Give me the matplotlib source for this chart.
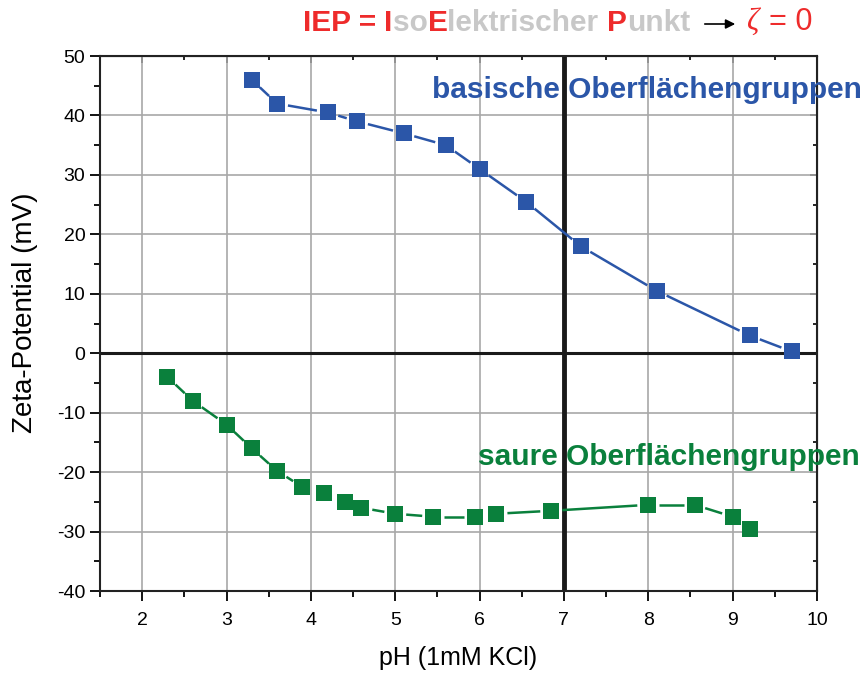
import numpy as np
import matplotlib
matplotlib.use('Agg')
import matplotlib.pyplot as plt
from matplotlib.offsetbox import TextArea, HPacker, AnchoredOffsetbox
from matplotlib.patches import FancyArrowPatch
from matplotlib.ticker import MultipleLocator

# Daten
ph_bas = [3.3, 3.6, 4.2, 4.55, 5.1, 5.6, 6.0, 6.55, 7.2, 8.1, 9.2, 9.7]
zeta_bas = [46, 42, 40.5, 39, 37, 35, 31, 25.5, 18, 10.5, 3, 0.3]
ph_saur = [2.3, 2.6, 3.0, 3.3, 3.6, 3.9, 4.15, 4.4, 4.6, 5.0, 5.45, 5.95, 6.2, 6.85, 8.0, 8.55, 9.0, 9.2]
zeta_saur = [-4, -8, -12, -16, -19.8, -22.5, -23.5, -25, -26, -27, -27.5, -27.5, -27, -26.5, -25.5, -25.5, -27.5, -29.5]
xticks = [2, 3, 4, 5, 6, 7, 8, 9, 10]
yticks = [-40, -30, -20, -10, 0, 10, 20, 30, 40, 50]

blau = '#2b56a8'
gruen = '#0a803c'
rot = '#ee2b2b'
grau = '#c8c8c8'

plt.rcParams['font.family'] = ['Liberation Sans', 'DejaVu Sans']
plt.rcParams['axes.unicode_minus'] = False

fig = plt.figure(figsize=(8.64, 6.75), dpi=100)
ax = fig.add_axes([0.1157, 0.1244, 0.8299, 0.7926])
ax.set_xlim(1.5, 10)
ax.set_ylim(-40, 50)
ax.set_xticks(xticks)
ax.set_yticks(yticks)
ax.xaxis.set_minor_locator(MultipleLocator(0.5))
ax.yaxis.set_minor_locator(MultipleLocator(5))
ax.grid(True, which='major', color='#a8a8a8', linewidth=1.2, zorder=0)
ax.tick_params(which='both', direction='out', width=1.3, labelsize=14, top=False, right=False)
ax.tick_params(which='major', length=7)
ax.tick_params(which='minor', length=4)
ax.tick_params(axis='x', pad=8)
for s in ax.spines.values():
    s.set_linewidth(1.5)
    s.set_color('#222222')

# innere Ticks oben/rechts
ax2 = ax.secondary_xaxis('top')
ax2.set_xticks(xticks)
ax2.xaxis.set_minor_locator(MultipleLocator(0.5))
ax2.tick_params(which='both', direction='in', labeltop=False, width=1.2)
ax2.tick_params(which='major', length=5)
ax2.tick_params(which='minor', length=3)
ay2 = ax.secondary_yaxis('right')
ay2.set_yticks(yticks)
ay2.yaxis.set_minor_locator(MultipleLocator(5))
ay2.tick_params(which='both', direction='in', labelright=False, width=1.2)
ay2.tick_params(which='major', length=5)
ay2.tick_params(which='minor', length=3)

ax.axhline(0, color='#1a1a1a', linewidth=2.2, zorder=2)
ax.axvline(7, color='#1a1a1a', linewidth=3.5, zorder=2)


def linie_mit_luecken(x, y, farbe, luecke=11):
    # Verbindungslinien enden kurz vor den Symbolen (Origin-Stil)
    pts = ax.transData.transform(np.column_stack([x, y]))
    inv = ax.transData.inverted()
    for p, q in zip(pts[:-1], pts[1:]):
        d = q - p
        L = np.hypot(*d)
        if L <= 2 * luecke + 2:
            continue
        u = d / L
        a, b = inv.transform([p + u * luecke, q - u * luecke])
        ax.plot([a[0], b[0]], [a[1], b[1]], color=farbe, linewidth=1.8, zorder=3,
                solid_capstyle='butt')
    ax.plot(x, y, 's', color=farbe, markersize=11.5, markeredgewidth=0, zorder=5)


linie_mit_luecken(ph_bas, zeta_bas, blau)
linie_mit_luecken(ph_saur, zeta_saur, gruen)

ax.set_xlabel('pH (1mM KCl)', fontsize=18, labelpad=12)
ax.set_ylabel('Zeta-Potential (mV)', fontsize=20)
ax.yaxis.set_label_coords(-0.086, 0.52)

ax.text(432 / 864, 1 - 98 / 675, 'basische Oberflächengruppen', transform=fig.transFigure,
        color=blau, fontsize=21.5, fontweight='bold', ha='left', va='baseline', zorder=6)
ax.text(478 / 864, 1 - 465 / 675, 'saure Oberflächengruppen', transform=fig.transFigure,
        color=gruen, fontsize=21.5, fontweight='bold', ha='left', va='baseline', zorder=6)

# Titel mit farbigen Buchstaben
teile = [('IEP = ', rot), ('I', rot), ('so', grau), ('E', rot), ('lektrischer ', grau), ('P', rot), ('unkt', grau)]
boxen = [TextArea(t, textprops=dict(color=c, fontsize=21.5, fontweight='bold')) for t, c in teile]
pack = HPacker(children=boxen, align='baseline', pad=0, sep=0)
ab = AnchoredOffsetbox(loc='center left', child=pack, pad=0, frameon=False,
                       bbox_to_anchor=(296 / 864, 1 - 23 / 675), bbox_transform=fig.transFigure)
fig.add_artist(ab)

fig.add_artist(FancyArrowPatch((702 / 864, 1 - 24 / 675), (738 / 864, 1 - 24 / 675),
                               transform=fig.transFigure, arrowstyle='-|>',
                               mutation_scale=14, color='black', linewidth=1.2))
fig.text(746 / 864, 1 - 22 / 675, 'ζ', color=rot, fontsize=22, family='Liberation Serif',
         style='italic', ha='left', va='center')
fig.text(769 / 864, 1 - 22 / 675, '= 0', color=rot, fontsize=22, ha='left', va='center')

fig.savefig('out.png', dpi=100)
